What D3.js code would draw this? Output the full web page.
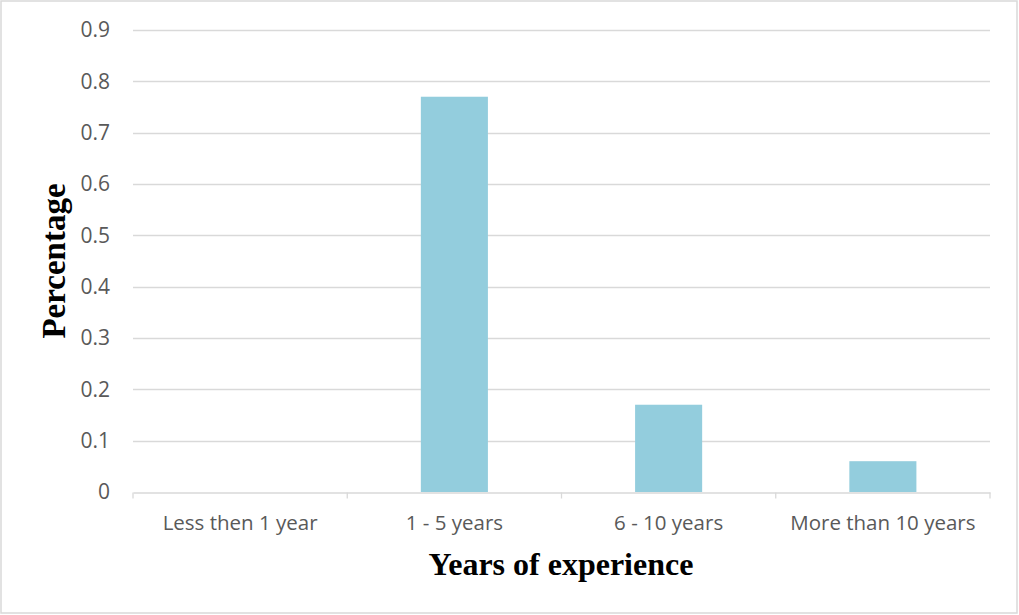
<!DOCTYPE html>
<html><head><meta charset="utf-8">
<script src="https://cdn.jsdelivr.net/npm/d3@7"></script>
<style>body{margin:0;background:#fff}svg{display:block}</style>
</head><body><svg id="c" width="1019" height="615"></svg>
<script>
const categories = ["Less then 1 year", "1 - 5 years", "6 - 10 years", "More than 10 years"];
const values = [0, 0.77, 0.17, 0.06];
const yTicks = [0, 0.1, 0.2, 0.3, 0.4, 0.5, 0.6, 0.7, 0.8, 0.9];

const svg = d3.select("#c");
const W = 1019, H = 615;
const m = {l: 133, r: 29, t: 30, b: 123};
svg.append("rect").attr("x", 1).attr("y", 1).attr("width", W - 3).attr("height", H - 3)
  .attr("fill", "#fff").attr("stroke", "#d9d9d9").attr("stroke-width", 1.5);

const x = d3.scaleBand().domain(categories).range([m.l, W - m.r]).padding(0);
const y = d3.scaleLinear().domain([0, 0.9]).range([H - m.b, m.t]);

// gridlines
svg.append("g").selectAll("line").data(yTicks.filter(d => d > 0)).join("line")
  .attr("x1", m.l).attr("x2", W - m.r)
  .attr("y1", d => Math.round(y(d)) + 0.5).attr("y2", d => Math.round(y(d)) + 0.5)
  .attr("stroke", "#d9d9d9").attr("stroke-width", 1.3);

// bars
const bw = x.bandwidth() * 0.313;
svg.append("g").selectAll("rect").data(categories).join("rect")
  .attr("x", (d) => x(d) + x.bandwidth() / 2 - bw / 2)
  .attr("width", bw)
  .attr("y", (d, i) => y(values[i]))
  .attr("height", (d, i) => y(0) - y(values[i]))
  .attr("fill", "#93cddd");

// x axis
const xa = svg.append("g").attr("transform", `translate(0,${Math.round(y(0)) + 0.5})`)
  .call(d3.axisBottom(x).tickSize(0).tickFormat(""));
xa.select(".domain").attr("stroke", "#d9d9d9").attr("stroke-width", 1.3);
const bounds = categories.map(d => x(d)).concat([x.range()[1]]);
xa.selectAll(".bt").data(bounds).join("line").attr("class", "bt")
  .attr("x1", d => d).attr("x2", d => d).attr("y1", 0).attr("y2", 6)
  .attr("stroke", "#d9d9d9").attr("stroke-width", 1.3);
svg.append("g").selectAll("text").data(categories).join("text")
  .attr("x", d => x(d) + x.bandwidth() / 2).attr("y", 530)
  .attr("text-anchor", "middle").attr("fill", "#595959")
  .attr("font-family", "Open Sans, Calibri, sans-serif").attr("font-size", 20.5)
  .text(d => d);

// y axis labels
const ya = svg.append("g").attr("transform", `translate(${m.l},0)`)
  .call(d3.axisLeft(y).tickValues(yTicks).tickSize(0).tickPadding(23)
    .tickFormat(d => d === 0 ? "0" : d3.format(".1f")(d)));
ya.select(".domain").remove();
ya.selectAll("text").attr("fill", "#595959")
  .attr("font-family", "Open Sans, Calibri, sans-serif").attr("font-size", 21);

// titles
svg.append("text").attr("transform", "translate(64.5,261) rotate(-90)")
  .attr("text-anchor", "middle").attr("font-family", "Liberation Serif, Times New Roman, serif")
  .attr("font-weight", "bold").attr("font-size", 33).attr("fill", "#000").text("Percentage");
svg.append("text").attr("x", 561).attr("y", 575)
  .attr("text-anchor", "middle").attr("font-family", "Liberation Serif, Times New Roman, serif")
  .attr("font-weight", "bold").attr("font-size", 32).attr("fill", "#000").text("Years of experience");
</script></body></html>
